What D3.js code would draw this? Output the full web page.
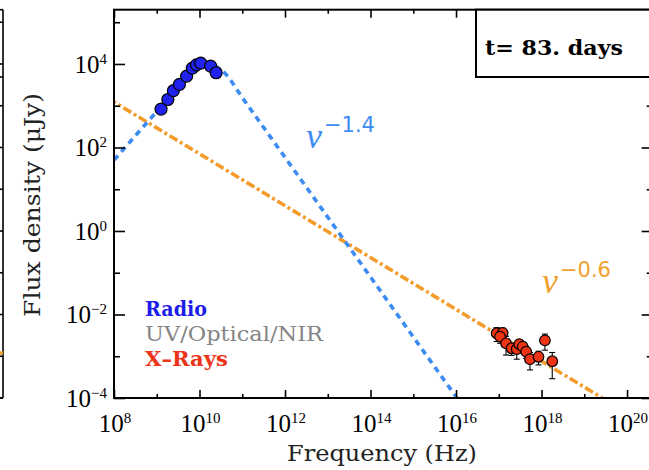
<!DOCTYPE html>
<html>
<head>
<meta charset="utf-8">
<script src="https://cdn.jsdelivr.net/npm/d3@7"></script>
<style>
  html, body { margin: 0; padding: 0; background: #fff; }
  svg { display: block; }
</style>
</head>
<body>
<svg id="chart" width="649" height="470"></svg>
<script>
// ---- data -------------------------------------------------------------
const radioNu   = [1.26e9, 1.82e9, 2.45e9, 3.39e9, 5.0e9, 6.8e9, 8.5e9, 1.07e10, 1.82e10, 2.45e10];
const radioFlux = [830, 1410, 2290, 3240, 5130, 7940, 9550, 10500, 8910, 6170];

const xrayNu   = [8.9e16, 1.23e17, 1.07e17, 1.48e17, 2.0e17, 2.63e17, 3.02e17, 3.63e17, 4.37e17, 5.37e17, 8.5e17, 1.2e18, 1.78e18];
const xrayFlux = [3.55e-3, 3.63e-3, 2.95e-3, 2.04e-3, 1.55e-3, 1.48e-3, 1.95e-3, 1.70e-3, 1.29e-3, 0.85e-3, 0.97e-3, 2.40e-3, 0.76e-3];
const xrayErr  = [1.3e-3, 1.1e-3, 0.9e-3, 0.97e-3, 0.5e-3, 0.63e-3, 0.5e-3, 0.5e-3, 0.4e-3, 0.38e-3, 0.35e-3, 1.0e-3, 0.47e-3];

// synchrotron model (radio peak, then nu^-1.4)
const radioModelNu   = [1e8, 1e9, 3.16e9, 6.31e9, 1e10, 1.41e10, 2.0e10, 2.82e10, 3.98e10, 1e11, 1e12, 1e14, 1e15, 1.05e16, 1e17];
const radioModelFlux = [50, 724, 2750, 5890, 8910, 10200, 9550, 7940, 5890, 1570, 58, 0.079, 2.9e-3, 1e-4, 3.9e-6];
// nu^-0.6 line
const xModelNu   = [3.16e7, 1e8, 2.63e19, 1e21];
const xModelFlux = [2.5e3, 1230, 1e-4, 1.05e-5];

const xMajor = [1e8, 1e10, 1e12, 1e14, 1e16, 1e18, 1e20];
const xMinor = [1e9, 1e11, 1e13, 1e15, 1e17, 1e19];
const yMajor = [1e-4, 1e-2, 1e0, 1e2, 1e4];
const yMinor = [1e-3, 1e-1, 1e1, 1e3, 1e5];

const xLabel = "Frequency (Hz)";
const yLabel = "Flux density (\u03bcJy)";
const epochLabel = "t= 83. days";
const legendItems = [
  { text: "Radio", color: "#1d1deb", weight: "bold", len: 62 },
  { text: "UV/Optical/NIR", color: "#858585", weight: "normal", len: 178 },
  { text: "X\u2013Rays", color: "#ec3418", weight: "bold", len: 83 }
];

// ---- layout -----------------------------------------------------------
const L = 114, R = 652.7, T = 9.7, B = 398;
const svg = d3.select("#chart");

const x = d3.scaleLog().domain([1e8, Math.pow(10, 20.6)]).range([L, R]);
const y = d3.scaleLog().domain([1e-4, Math.pow(10, 5.3)]).range([B, T]);

svg.append("defs").append("clipPath").attr("id", "plotclip")
  .append("rect").attr("x", L).attr("y", T).attr("width", R - L).attr("height", B - T);

const blue = "#3d8cf2", orange = "#f39c2c";

// ---- fragment of the neighbouring panel at the left edge --------------
const side = svg.append("g").attr("stroke", "#000").attr("stroke-width", 1.6);
side.append("line").attr("x1", 3).attr("x2", 3).attr("y1", T).attr("y2", B);
side.append("line").attr("x1", 0).attr("x2", 3).attr("y1", T).attr("y2", T);
side.append("line").attr("x1", 0).attr("x2", 3).attr("y1", B).attr("y2", B);
side.append("line").attr("x1", 0).attr("x2", 3).attr("y1", 77).attr("y2", 77);
yMajor.concat(yMinor).forEach(v => {
  side.append("line").attr("x1", 0).attr("x2", 3).attr("y1", y(v)).attr("y2", y(v));
});
svg.append("line").attr("x1", 0).attr("x2", 3).attr("y1", 353).attr("y2", 353)
  .attr("stroke", orange).attr("stroke-width", 3.5);

// ---- model lines ------------------------------------------------------
const plot = svg.append("g").attr("clip-path", "url(#plotclip)");

plot.append("path")
  .datum(xModelNu.map((n, i) => [n, xModelFlux[i]]))
  .attr("d", d3.line().x(d => x(d[0])).y(d => y(d[1])))
  .attr("fill", "none").attr("stroke", orange).attr("stroke-width", 3.6)
  .attr("stroke-dasharray", "9,3,3,3");

plot.append("path")
  .datum(radioModelNu.map((n, i) => [n, radioModelFlux[i]]))
  .attr("d", d3.line().x(d => x(d[0])).y(d => y(d[1])).curve(d3.curveMonotoneX))
  .attr("fill", "none").attr("stroke", blue).attr("stroke-width", 3.6)
  .attr("stroke-dasharray", "6,5");

// ---- data points ------------------------------------------------------
const xr = xrayNu.map((n, i) => ({ nu: n, f: xrayFlux[i], e: xrayErr[i] }));
const err = plot.append("g").attr("stroke", "#000").attr("stroke-width", 1.1);
xr.forEach(d => {
  const lo = y(Math.max(d.f - d.e, 1e-6)), hi = y(d.f + d.e), cx = x(d.nu);
  err.append("line").attr("x1", cx).attr("x2", cx).attr("y1", hi).attr("y2", lo);
  err.append("line").attr("x1", cx - 3).attr("x2", cx + 3).attr("y1", hi).attr("y2", hi);
  err.append("line").attr("x1", cx - 3).attr("x2", cx + 3).attr("y1", lo).attr("y2", lo);
});
plot.append("g").selectAll("circle").data(xr).join("circle")
  .attr("cx", d => x(d.nu)).attr("cy", d => y(d.f)).attr("r", 5.3)
  .attr("fill", "#ee3414").attr("stroke", "#000").attr("stroke-width", 1.2);

plot.append("g").selectAll("circle")
  .data(radioNu.map((n, i) => ({ nu: n, f: radioFlux[i] })))
  .join("circle")
  .attr("cx", d => x(d.nu)).attr("cy", d => y(d.f)).attr("r", 6)
  .attr("fill", "#2222ee").attr("stroke", "#000").attr("stroke-width", 1.2);

// ---- axes -------------------------------------------------------------
function styleAxis(g) {
  g.select(".domain").remove();
  g.selectAll(".tick line").attr("stroke", "#000").attr("stroke-width", 1.6);
  g.selectAll(".tick text").remove();
}
const noLabel = () => "";
svg.append("g").attr("transform", `translate(0,${B})`)
  .call(d3.axisBottom(x).tickValues(xMajor).tickSize(-8).tickFormat(noLabel)).call(styleAxis);
svg.append("g").attr("transform", `translate(0,${B})`)
  .call(d3.axisBottom(x).tickValues(xMinor).tickSize(-4).tickFormat(noLabel)).call(styleAxis);
svg.append("g").attr("transform", `translate(0,${T})`)
  .call(d3.axisTop(x).tickValues(xMajor).tickSize(-8).tickFormat(noLabel)).call(styleAxis);
svg.append("g").attr("transform", `translate(0,${T})`)
  .call(d3.axisTop(x).tickValues(xMinor).tickSize(-4).tickFormat(noLabel)).call(styleAxis);
svg.append("g").attr("transform", `translate(${L},0)`)
  .call(d3.axisLeft(y).tickValues(yMajor).tickSize(-11).tickFormat(noLabel)).call(styleAxis);
svg.append("g").attr("transform", `translate(${L},0)`)
  .call(d3.axisLeft(y).tickValues(yMinor).tickSize(-6).tickFormat(noLabel)).call(styleAxis);
svg.append("g").attr("transform", `translate(${R},0)`)
  .call(d3.axisRight(y).tickValues(yMajor).tickSize(-11).tickFormat(noLabel)).call(styleAxis);
svg.append("g").attr("transform", `translate(${R},0)`)
  .call(d3.axisRight(y).tickValues(yMinor).tickSize(-6).tickFormat(noLabel)).call(styleAxis);

svg.append("rect").attr("x", L).attr("y", T).attr("width", R - L).attr("height", B - T)
  .attr("fill", "none").attr("stroke", "#000").attr("stroke-width", 2);

// power-of-ten tick labels
const tickFont = "'Liberation Serif', 'Times New Roman', serif";
function powLabel(g, v, px, py, anchor) {
  const e = Math.round(Math.log10(v));
  const t = g.append("text").attr("x", px).attr("y", py)
    .attr("text-anchor", anchor).attr("font-family", tickFont).attr("fill", "#000");
  t.append("tspan").attr("font-size", 25).text("10");
  t.append("tspan").attr("font-size", 15).attr("dy", -9).text(String(e).replace("-", "\u2212"));
}
const labels = svg.append("g");
xMajor.forEach(v => powLabel(labels, v, x(v) + 1, 432, "middle"));
yMajor.forEach(v => powLabel(labels, v, 107, y(v) + 9, "end"));

// axis titles
const titleFont = "'DejaVu Serif', serif";
svg.append("text").attr("x", 382).attr("y", 461).attr("text-anchor", "middle")
  .attr("font-family", titleFont).attr("font-size", 23).attr("fill", "#222")
  .attr("textLength", 190).attr("lengthAdjust", "spacingAndGlyphs").text(xLabel);
svg.append("text").attr("transform", "translate(40,205) rotate(-90)").attr("text-anchor", "middle")
  .attr("font-family", titleFont).attr("font-size", 23).attr("fill", "#222")
  .attr("textLength", 224).attr("lengthAdjust", "spacingAndGlyphs").text(yLabel);

// epoch box
svg.append("rect").attr("x", 476).attr("y", T).attr("width", 240).attr("height", 77 - T)
  .attr("fill", "#fff").attr("stroke", "#000").attr("stroke-width", 2);
svg.append("text").attr("x", 485).attr("y", 55)
  .attr("font-family", titleFont).attr("font-size", 20).attr("font-weight", "bold")
  .attr("textLength", 138).attr("lengthAdjust", "spacingAndGlyphs").text(epochLabel);

// legend
legendItems.forEach((d, i) => {
  svg.append("text").attr("x", 145).attr("y", 316 + i * 25)
    .attr("font-family", titleFont).attr("font-size", 20.5).attr("font-weight", d.weight)
    .attr("fill", d.color).attr("textLength", d.len).attr("lengthAdjust", "spacingAndGlyphs")
    .text(d.text);
});

// power-law index annotations
function nuLabel(px, py, idx, color) {
  const t = svg.append("text").attr("x", px).attr("y", py).attr("fill", color);
  t.append("tspan").attr("font-family", "'Liberation Serif', serif").attr("font-style", "italic")
    .attr("font-size", 36).text("\u03bd");
  t.append("tspan").attr("font-family", "'DejaVu Sans', sans-serif").attr("font-size", 21)
    .attr("dx", 2).attr("dy", -16).text(idx);
}
nuLabel(306, 148, "\u22121.4", blue);
nuLabel(542, 293, "\u22120.6", "#f0a02e");
</script>
</body>
</html>
